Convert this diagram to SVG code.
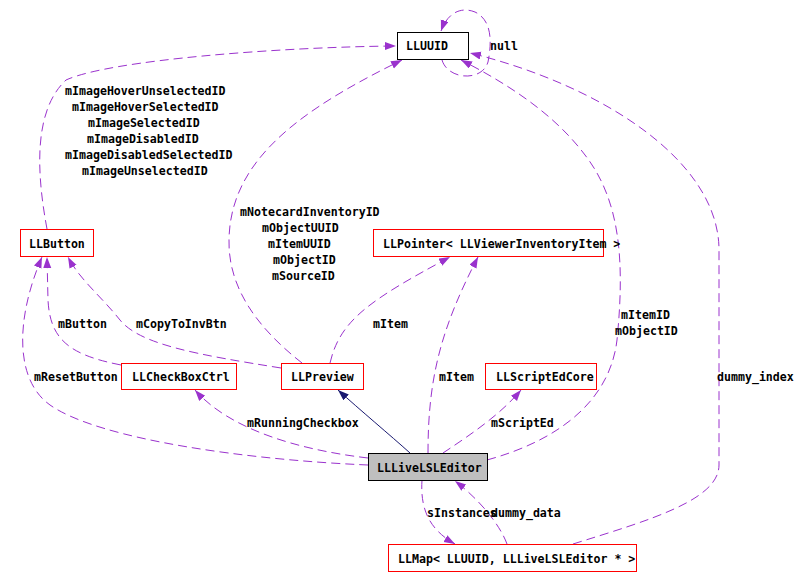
<svg xmlns="http://www.w3.org/2000/svg" width="799" height="575" viewBox="0 0 799 575">
<style>
text{font-family:"DejaVu Sans Mono","Liberation Mono",monospace;font-weight:bold;font-size:11.6px;fill:#000}
.n{fill:#fff;stroke:#ff0000;stroke-width:1}
.b{fill:#fff;stroke:#000;stroke-width:1}
.g{fill:#bfbfbf;stroke:#000;stroke-width:1}
.e{fill:none;stroke:#9a32cd;stroke-width:1;stroke-dasharray:9,5;marker-end:url(#ap)}
.i{fill:none;stroke:#191970;stroke-width:1;marker-end:url(#ab)}
</style>
<defs>
<marker id="ap" markerUnits="userSpaceOnUse" markerWidth="12" markerHeight="10" refX="11" refY="4" orient="auto">
<path d="M0,0 L11,4 L0,8 z" fill="#9a32cd"/>
</marker>
<marker id="ab" markerUnits="userSpaceOnUse" markerWidth="12" markerHeight="10" refX="11" refY="4" orient="auto">
<path d="M0,0 L11,4 L0,8 z" fill="#191970"/>
</marker>
</defs>
<rect width="799" height="575" fill="#fff"/>
<g id="edges">
<path class="e" d="M442,60 C448,80 482,82 488,62 C492,42 492,20 475,12 C460,6 447,14 441,31"/>
<path class="e" d="M47,229 C36,170 34,110 66,80 C110,60 280,47 396,46"/>
<path class="e" d="M302,363 C260,330 228,290 229,240 C230,160 300,110 402,60"/>
<path class="e" d="M487,460 C560,440 610,400 617,340 C625,260 620,200 585,155 C555,115 510,85 461,60"/>
<path class="e" d="M573,544 C650,520 719,500 719,465 L719,250 C719,160 600,85 470,53"/>
<path class="e" d="M121,365 C70,355 50,340 48,300 L47,257"/>
<path class="e" d="M281,368 C200,355 140,345 120,320 C100,295 80,280 68,257"/>
<path class="e" d="M368,465 C250,460 100,440 50,405 C15,380 15,320 42,257"/>
<path class="e" d="M368,458 C300,450 230,430 195,390"/>
<path class="i" d="M410,453 C390,435 360,410 338,390"/>
<path class="e" d="M330,363 C340,320 370,300 450,257"/>
<path class="e" d="M428,453 C428,380 440,330 478,257"/>
<path class="e" d="M443,453 C470,435 500,415 521,390"/>
<path class="e" d="M422,480 C420,510 430,530 455,544"/>
<path class="e" d="M507,544 C500,525 480,500 455,481"/>
</g>
<g id="labels">
<text x="490" y="50">null</text>
<text x="65" y="95">mImageHoverUnselectedID</text>
<text x="72" y="111">mImageHoverSelectedID</text>
<text x="88" y="127">mImageSelectedID</text>
<text x="87" y="143">mImageDisabledID</text>
<text x="65" y="159">mImageDisabledSelectedID</text>
<text x="82" y="175">mImageUnselectedID</text>
<text x="240" y="216">mNotecardInventoryID</text>
<text x="262" y="232">mObjectUUID</text>
<text x="268" y="248">mItemUUID</text>
<text x="273" y="264">mObjectID</text>
<text x="272" y="280">mSourceID</text>
<text x="621" y="319">mItemID</text>
<text x="615" y="335">mObjectID</text>
<text x="717" y="381">dummy_index</text>
<text x="58" y="328">mButton</text>
<text x="136" y="328">mCopyToInvBtn</text>
<text x="34" y="381">mResetButton</text>
<text x="373" y="328">mItem</text>
<text x="439" y="381">mItem</text>
<text x="247" y="427">mRunningCheckbox</text>
<text x="491" y="427">mScriptEd</text>
<text x="427" y="517">sInstances</text>
<text x="491" y="517">dummy_data</text>
</g>
<g id="LLUUID"><rect class="b" x="397.5" y="32.5" width="71" height="27"/><text x="406" y="50">LLUUID</text></g>
<g id="LLButton"><rect class="n" x="20.5" y="229.5" width="73" height="27"/><text x="29" y="248">LLButton</text></g>
<g id="LLPointer"><rect class="n" x="373.5" y="229.5" width="230" height="27"/><text x="383" y="248">LLPointer&lt; LLViewerInventoryItem &gt;</text></g>
<g id="LLCheckBoxCtrl"><rect class="n" x="121.5" y="363.5" width="115" height="26"/><text x="132" y="381">LLCheckBoxCtrl</text></g>
<g id="LLPreview"><rect class="n" x="281.5" y="363.5" width="82" height="26"/><text x="291" y="381">LLPreview</text></g>
<g id="LLScriptEdCore"><rect class="n" x="485.5" y="363.5" width="111" height="26"/><text x="496" y="381">LLScriptEdCore</text></g>
<g id="LLLiveLSLEditor"><rect class="g" x="368.5" y="453.5" width="119" height="27"/><text x="377" y="472">LLLiveLSLEditor</text></g>
<g id="LLMap"><rect class="n" x="388.5" y="544.5" width="248" height="27"/><text x="398" y="563">LLMap&lt; LLUUID, LLLiveLSLEditor * &gt;</text></g>
</svg>
